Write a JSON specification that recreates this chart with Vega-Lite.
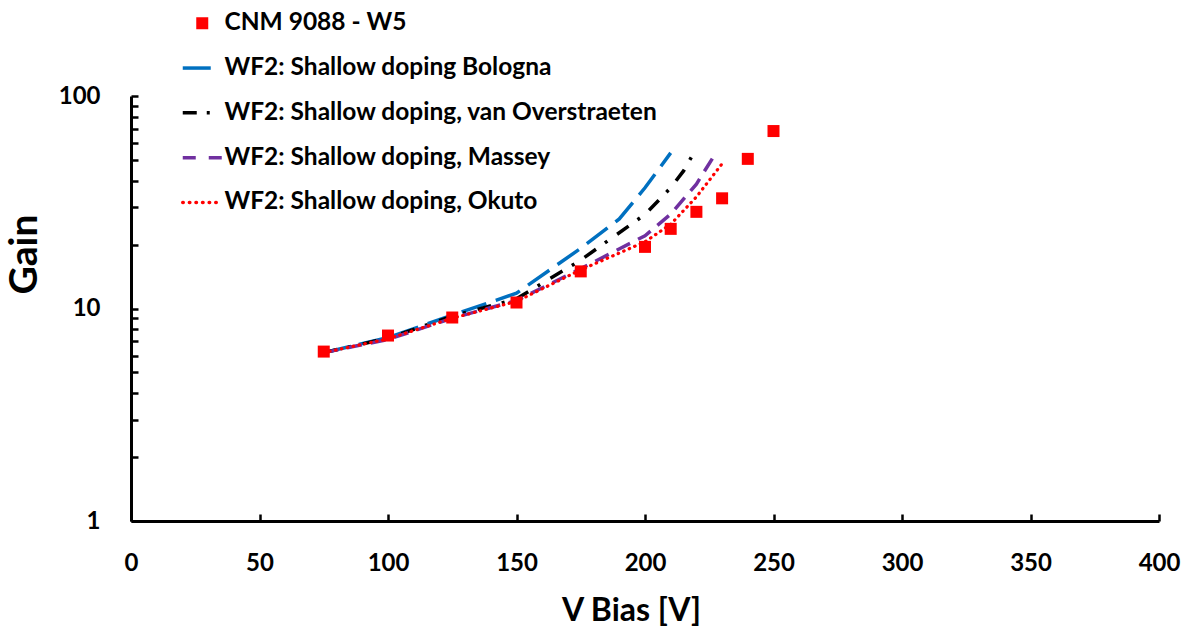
{
  "$schema": "https://vega.github.io/schema/vega-lite/v6.json",
  "width": 1028,
  "height": 425,
  "autosize": "none",
  "padding": {"left": 131, "top": 96, "right": 25, "bottom": 105},
  "background": "white",
  "config": {"view": {"stroke": null}, "font": "Lato"},
  "data": {
    "values": [
      {"series": "CNM 9088 - W5", "V": 75, "gain": 6.27},
      {"series": "CNM 9088 - W5", "V": 100, "gain": 7.46},
      {"series": "CNM 9088 - W5", "V": 125, "gain": 9.07},
      {"series": "CNM 9088 - W5", "V": 150, "gain": 10.67},
      {"series": "CNM 9088 - W5", "V": 175, "gain": 14.95},
      {"series": "CNM 9088 - W5", "V": 200, "gain": 19.5},
      {"series": "CNM 9088 - W5", "V": 210, "gain": 23.7},
      {"series": "CNM 9088 - W5", "V": 220, "gain": 28.5},
      {"series": "CNM 9088 - W5", "V": 230, "gain": 33.0},
      {"series": "CNM 9088 - W5", "V": 240, "gain": 50.6},
      {"series": "CNM 9088 - W5", "V": 250, "gain": 68.4},

      {"series": "WF2: Shallow doping Bologna", "V": 75, "gain": 6.2},
      {"series": "WF2: Shallow doping Bologna", "V": 100, "gain": 7.3},
      {"series": "WF2: Shallow doping Bologna", "V": 125, "gain": 9.3},
      {"series": "WF2: Shallow doping Bologna", "V": 150, "gain": 11.8},
      {"series": "WF2: Shallow doping Bologna", "V": 175, "gain": 19.2},
      {"series": "WF2: Shallow doping Bologna", "V": 190, "gain": 26.4},
      {"series": "WF2: Shallow doping Bologna", "V": 200, "gain": 37.0},
      {"series": "WF2: Shallow doping Bologna", "V": 210, "gain": 54.0},

      {"series": "WF2: Shallow doping, van Overstraeten", "V": 75, "gain": 6.2},
      {"series": "WF2: Shallow doping, van Overstraeten", "V": 100, "gain": 7.25},
      {"series": "WF2: Shallow doping, van Overstraeten", "V": 125, "gain": 9.2},
      {"series": "WF2: Shallow doping, van Overstraeten", "V": 150, "gain": 11.1},
      {"series": "WF2: Shallow doping, van Overstraeten", "V": 175, "gain": 16.9},
      {"series": "WF2: Shallow doping, van Overstraeten", "V": 200, "gain": 27.7},
      {"series": "WF2: Shallow doping, van Overstraeten", "V": 210, "gain": 37.0},
      {"series": "WF2: Shallow doping, van Overstraeten", "V": 215, "gain": 44.4},
      {"series": "WF2: Shallow doping, van Overstraeten", "V": 220, "gain": 56.7},

      {"series": "WF2: Shallow doping, Massey", "V": 75, "gain": 6.2},
      {"series": "WF2: Shallow doping, Massey", "V": 100, "gain": 7.15},
      {"series": "WF2: Shallow doping, Massey", "V": 125, "gain": 9.0},
      {"series": "WF2: Shallow doping, Massey", "V": 150, "gain": 10.9},
      {"series": "WF2: Shallow doping, Massey", "V": 175, "gain": 15.4},
      {"series": "WF2: Shallow doping, Massey", "V": 200, "gain": 22.0},
      {"series": "WF2: Shallow doping, Massey", "V": 210, "gain": 27.8},
      {"series": "WF2: Shallow doping, Massey", "V": 220, "gain": 38.5},
      {"series": "WF2: Shallow doping, Massey", "V": 228, "gain": 55.0},

      {"series": "WF2: Shallow doping, Okuto", "V": 75, "gain": 6.2},
      {"series": "WF2: Shallow doping, Okuto", "V": 100, "gain": 7.2},
      {"series": "WF2: Shallow doping, Okuto", "V": 125, "gain": 9.0},
      {"series": "WF2: Shallow doping, Okuto", "V": 150, "gain": 10.8},
      {"series": "WF2: Shallow doping, Okuto", "V": 175, "gain": 15.2},
      {"series": "WF2: Shallow doping, Okuto", "V": 200, "gain": 20.6},
      {"series": "WF2: Shallow doping, Okuto", "V": 210, "gain": 24.9},
      {"series": "WF2: Shallow doping, Okuto", "V": 220, "gain": 33.5},
      {"series": "WF2: Shallow doping, Okuto", "V": 230, "gain": 48.0}
    ]
  },
  "encoding": {
    "x": {
      "field": "V",
      "type": "quantitative",
      "scale": {"domain": [0, 400], "nice": false, "zero": false},
      "axis": {
        "title": "V Bias [V]",
        "values": [0, 50, 100, 150, 200, 250, 300, 350, 400],
        "format": "d",
        "grid": false,
        "domainColor": "black",
        "domainWidth": 3,
        "tickColor": "black",
        "tickWidth": 2.5,
        "tickSize": -7,
        "labelPadding": 37,
        "labelFlush": false,
        "labelOverlap": false,
        "labelFont": "Lato",
        "labelFontSize": 24,
        "labelFontWeight": "bold",
        "labelColor": "black",
        "titleFont": "Lato",
        "titleFontSize": 32,
        "titleFontWeight": "bold",
        "titleColor": "black",
        "titleX": 500,
        "titleY": 99,
        "titleBaseline": "alphabetic",
        "titleAlign": "center"
      }
    },
    "y": {
      "field": "gain",
      "type": "quantitative",
      "scale": {"type": "log", "domain": [1, 100], "nice": false},
      "axis": {
        "title": "Gain",
        "values": [1, 2, 3, 4, 5, 6, 7, 8, 9, 10, 20, 30, 40, 50, 60, 70, 80, 90, 100],
        "format": "d",
        "labelExpr": "datum.value === 1 || datum.value === 10 || datum.value === 100 ? datum.label : ''",
        "grid": false,
        "domainColor": "black",
        "domainWidth": 3,
        "tickColor": "black",
        "tickWidth": 2.5,
        "tickSize": -7,
        "labelPadding": 38,
        "labelFlush": false,
        "labelOverlap": false,
        "labelFont": "Lato",
        "labelFontSize": 24,
        "labelFontWeight": "bold",
        "labelColor": "black",
        "titleFont": "Lato",
        "titleFontSize": 39,
        "titleFontWeight": "bold",
        "titleColor": "black",
        "titleAngle": -90,
        "titleX": -107,
        "titleY": 158,
        "titleAlign": "center",
        "titleBaseline": "middle"
      }
    },
    "color": {
      "field": "series",
      "type": "nominal",
      "scale": {
        "domain": [
          "CNM 9088 - W5",
          "WF2: Shallow doping Bologna",
          "WF2: Shallow doping, van Overstraeten",
          "WF2: Shallow doping, Massey",
          "WF2: Shallow doping, Okuto"
        ],
        "range": ["#ff0000", "#0070c0", "#000000", "#7030a0", "#ff0000"]
      },
      "legend": {
        "title": null,
        "orient": "none",
        "legendX": 59,
        "legendY": -85,
        "padding": 0,
        "symbolSize": 1296,
        "rowPadding": 19.8,
        "labelOffset": 10,
        "labelLimit": 700,
        "labelFont": "Lato",
        "labelFontSize": 24.5,
        "labelFontWeight": "bold",
        "labelColor": "black",
        "encode": {
          "symbols": {
            "update": {
              "shape": {"signal": "datum.value === 'CNM 9088 - W5' ? 'square' : 'stroke'"},
              "size": {"signal": "datum.value === 'CNM 9088 - W5' ? 144 : 1521"},
              "fill": {"signal": "datum.value === 'CNM 9088 - W5' ? '#ff0000' : 'transparent'"},
              "stroke": {"scale": "color", "field": "value"},
              "strokeWidth": {"signal": "datum.value === 'CNM 9088 - W5' ? 0 : 3.5"},
              "strokeCap": {"signal": "datum.value === 'WF2: Shallow doping, Okuto' ? 'round' : 'butt'"},
              "strokeDash": {"signal": "datum.value === 'WF2: Shallow doping Bologna' ? [28, 20] : datum.value === 'WF2: Shallow doping, van Overstraeten' ? [14, 10, 3, 20] : datum.value === 'WF2: Shallow doping, Massey' ? [13, 13] : datum.value === 'WF2: Shallow doping, Okuto' ? [0.5, 6.1] : [1, 0]"},
              "opacity": {"value": 1}
            }
          }
        }
      }
    }
  },
  "layer": [
    {
      "transform": [{"filter": "datum.series !== 'CNM 9088 - W5' && datum.series !== 'WF2: Shallow doping, Okuto'"}],
      "mark": {"type": "line", "strokeWidth": 3.5, "strokeCap": "butt"},
      "encoding": {
        "strokeDash": {
          "field": "series",
          "type": "nominal",
          "scale": {
            "domain": [
              "WF2: Shallow doping Bologna",
              "WF2: Shallow doping, van Overstraeten",
              "WF2: Shallow doping, Massey"
            ],
            "range": [[26, 10], [14, 11, 3, 12], [15, 9]]
          },
          "legend": null
        },
        "order": {"field": "V", "type": "quantitative"}
      }
    },
    {
      "transform": [{"filter": "datum.series === 'WF2: Shallow doping, Okuto'"}],
      "mark": {"type": "line", "strokeWidth": 3.2, "strokeCap": "round", "strokeDash": [0.5, 5.5]},
      "encoding": {
        "order": {"field": "V", "type": "quantitative"}
      }
    },
    {
      "transform": [{"filter": "datum.series === 'CNM 9088 - W5'"}],
      "mark": {"type": "point", "shape": "square", "filled": true, "size": 144, "opacity": 1},
      "encoding": {}
    }
  ]
}
